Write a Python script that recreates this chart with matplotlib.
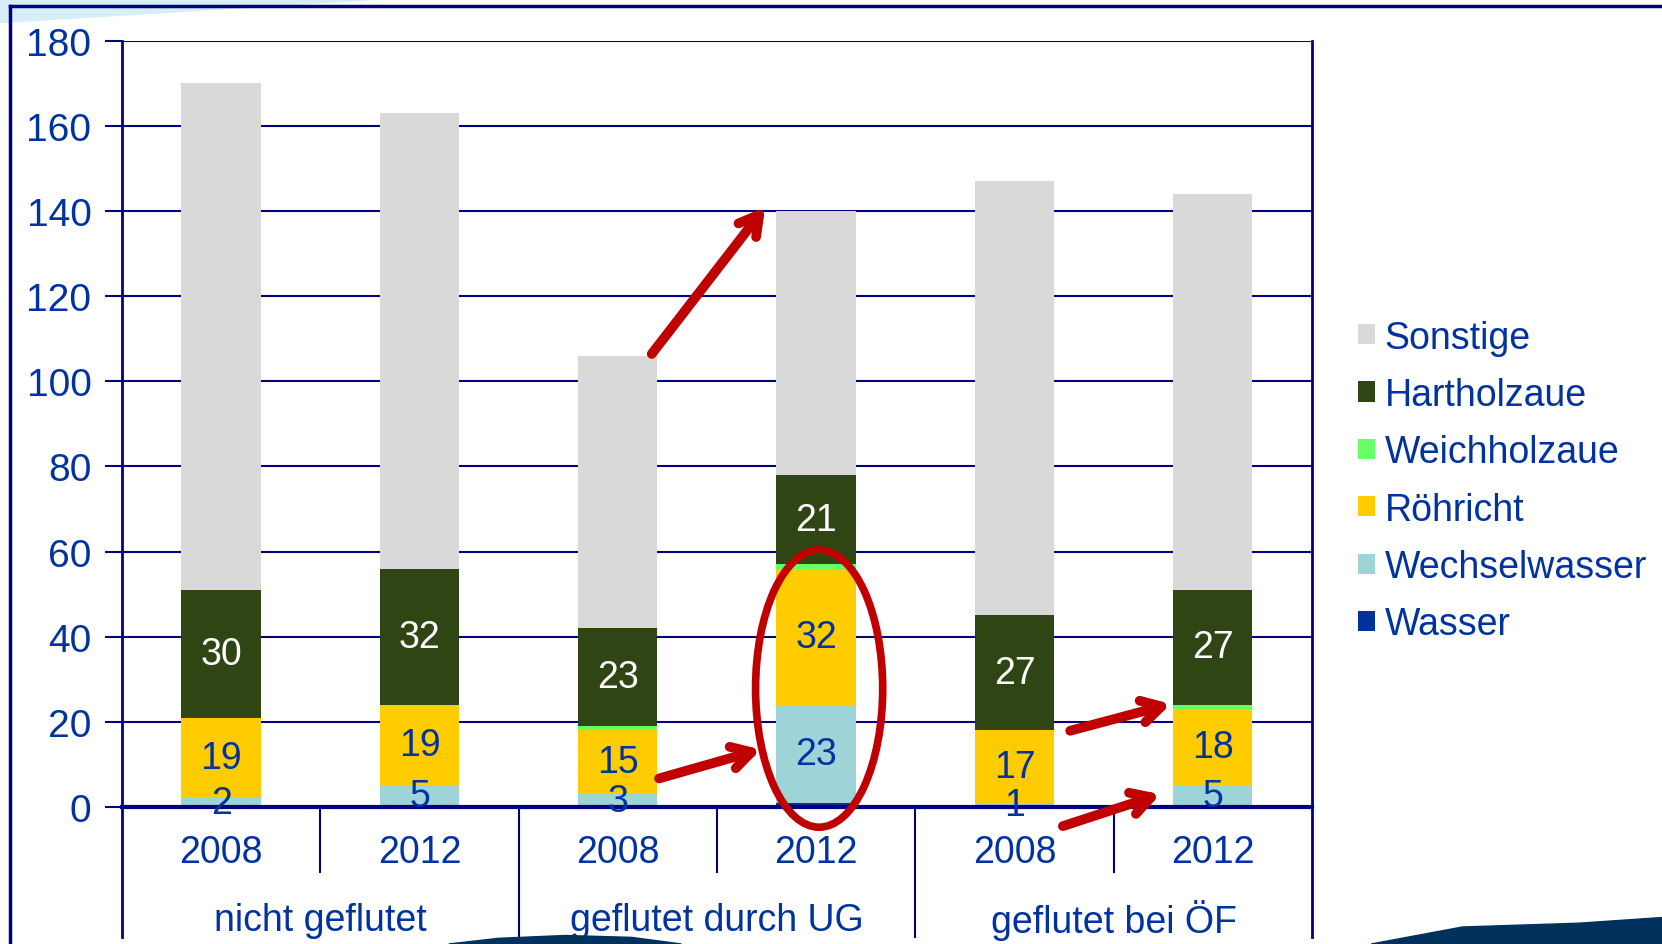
import numpy as np
import matplotlib
matplotlib.use('Agg')
import matplotlib.pyplot as plt
from matplotlib.patches import Ellipse, Polygon

plt.rcParams['font.family'] = ['Liberation Sans', 'DejaVu Sans']

#############################
# Data
#############################
years = ['2008', '2012', '2008', '2012', '2008', '2012']
groups = ['nicht geflutet', 'geflutet durch UG', 'geflutet bei ÖF']
totals = [170, 163, 106, 140, 147, 144]

wasser = [0, 0, 0, 1, 0, 0]
wechselwasser = [2, 5, 3, 23, 1, 5]
roehricht = [19, 19, 15, 32, 17, 18]
weichholzaue = [0, 0, 1, 1, 0, 1]
hartholzaue = [30, 32, 23, 21, 27, 27]
sonstige = [t - a - b - c - d - e for t, a, b, c, d, e in
            zip(totals, wasser, wechselwasser, roehricht, weichholzaue, hartholzaue)]

series = [('Wasser', wasser, '#003399'),
          ('Wechselwasser', wechselwasser, '#9ED3D8'),
          ('Röhricht', roehricht, '#FFCC00'),
          ('Weichholzaue', weichholzaue, '#66FF66'),
          ('Hartholzaue', hartholzaue, '#2F4514'),
          ('Sonstige', sonstige, '#D9D9D9')]

label_color = {'Wechselwasser': '#0033A0', 'Röhricht': '#0033A0', 'Hartholzaue': 'white'}

navy = '#000080'
txt = '#0033A0'
fs = 28   # y tick labels
fs_cat = 27  # category + data labels

fig = plt.figure(figsize=(16.62, 9.45), dpi=100)

# background decorations
fig.patches.append(Polygon([[0, 1], [0.23, 1], [0.0, 0.975]], closed=True,
                           transform=fig.transFigure, color='#D6EEF8', zorder=0))
fig.patches.append(Polygon([[0.27, 0.0], [0.30, 0.006], [0.34, 0.009], [0.38, 0.007],
                            [0.41, 0.0]], closed=True,
                           transform=fig.transFigure, color='#00305C', zorder=0))
fig.patches.append(Polygon([[0.825, 0.0], [0.88, 0.018], [0.95, 0.022], [1.0, 0.028],
                            [1.0, 0.0]], closed=True,
                           transform=fig.transFigure, color='#00305C', zorder=0))
fig.lines.append(plt.Line2D([0.006, 1.0], [0.9925, 0.9925], transform=fig.transFigure,
                            color=navy, lw=2.5))
fig.lines.append(plt.Line2D([0.006, 0.006], [0.9925, 0.0], transform=fig.transFigure,
                            color=navy, lw=2.5))

ax = fig.add_axes([0.0734, 0.145, 0.7160, 0.811])

x = np.arange(len(years))
bottom = np.zeros(len(years))
for name, vals, col in series:
    vals = np.array(vals, dtype=float)
    ax.bar(x, vals, 0.4, bottom=bottom, color=col, zorder=2, label=name)
    if name in label_color:
        for xi, b, v in zip(x, bottom, vals):
            ax.text(xi, b + v / 2, str(int(v)), ha='center', va='center',
                    color=label_color[name], fontsize=fs_cat, zorder=4)
    bottom += vals

ax.set_xlim(-0.5, 5.5)
ax.set_ylim(0, 180)
ax.set_yticks(np.arange(0, 181, 20))
ax.yaxis.grid(True, color=navy, lw=1.5, zorder=0)
ax.set_axisbelow(True)
ax.tick_params(axis='y', colors=navy, length=12, width=1.5, pad=10, labelsize=fs,
               labelcolor=txt)
ax.set_xticks([])
for s in ['top', 'right', 'left']:
    ax.spines[s].set_visible(False)
ax.spines['bottom'].set_color(navy)
ax.spines['bottom'].set_linewidth(3)
ax.spines['bottom'].set_zorder(3)

# category axis
tr = ax.get_xaxis_transform()
for xi, yr in zip(x, years):
    ax.text(xi, -0.059, yr, transform=tr, ha='center', va='center', color=txt,
            fontsize=fs_cat, clip_on=False)
for gi, g in enumerate(groups):
    ax.text(2 * gi + 0.5, -0.147, g, transform=tr, ha='center', va='center',
            color=txt, fontsize=fs_cat, clip_on=False)
for xs in [0.5, 2.5, 4.5]:
    ax.plot([xs, xs], [0, -0.085], transform=tr, color=navy, lw=1.5, clip_on=False)
for xs in [1.5, 3.5]:
    ax.plot([xs, xs], [0, -0.17], transform=tr, color=navy, lw=1.5, clip_on=False)
for xs in [-0.5, 5.5]:
    ax.plot([xs, xs], [1, -0.17], transform=tr, color=navy, lw=2, clip_on=False)

# red annotations
red = '#C00000'
arrows = [((2.171, 106.4), (2.743, 140.9)),
          ((2.208, 6.7), (2.721, 13.5)),
          ((4.281, 17.9), (4.788, 24.2)),
          ((4.244, -4.5), (4.735, 3.0))]
for start, end in arrows:
    ax.annotate('', xy=end, xytext=start, annotation_clip=False, zorder=6,
                arrowprops=dict(arrowstyle='->,head_length=1.4,head_width=0.8',
                                color=red, lw=7, shrinkA=0, shrinkB=0))
ax.add_patch(Ellipse((3.015, 27.8), 0.641, 65.1, fill=False, edgecolor=red, lw=5.5,
                     zorder=6, clip_on=False))

# legend
handles, labels = ax.get_legend_handles_labels()
leg = fig.legend(handles[::-1], labels[::-1], loc='center left',
                 bbox_to_anchor=(0.797, 0.490), frameon=False, fontsize=27,
                 handlelength=0.45, handleheight=0.45, handletextpad=0.25,
                 labelspacing=0.57)
for t in leg.get_texts():
    t.set_color(txt)

fig.savefig('out.png', dpi=100)
